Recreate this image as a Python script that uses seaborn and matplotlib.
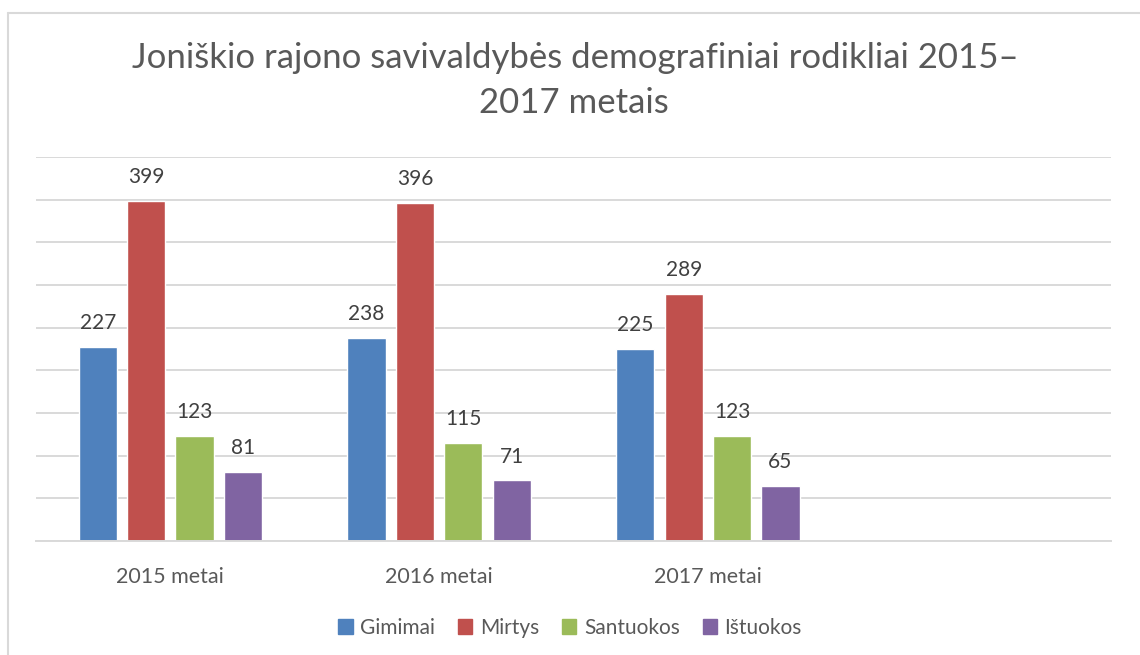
import matplotlib.pyplot as plt
import matplotlib.patches as mpatches
import pandas as pd
import seaborn as sns

# Data
years = ["2015 metai", "2016 metai", "2017 metai"]
series = ["Gimimai", "Mirtys", "Santuokos", "Ištuokos"]
gimimai = [227, 238, 225]
mirtys = [399, 396, 289]
santuokos = [123, 115, 123]
istuokos = [81, 71, 65]
colors = ["#4F81BD", "#C0504D", "#9BBB59", "#8064A2"]

df = pd.DataFrame({"metai": years, "Gimimai": gimimai, "Mirtys": mirtys,
                   "Santuokos": santuokos, "Ištuokos": istuokos})
df = df.melt(id_vars="metai", var_name="rodiklis", value_name="reiksme")

sns.set_theme(style="white")
plt.rcParams["font.family"] = ["Lato", "DejaVu Sans"]

fig = plt.figure(figsize=(11.4, 6.55), dpi=100)
ax = fig.add_axes([36 / 1140, 1 - 541 / 655, 1075 / 1140, 384 / 655])

sns.barplot(data=df, x="metai", y="reiksme", hue="rodiklis", hue_order=series,
            palette=colors, width=0.72, gap=0.21, saturation=1, ax=ax, legend=False)

ax.set_xlim(-0.5, 3.5)
ax.set_ylim(0, 450)
ax.set_yticks(range(0, 451, 50))
ax.set_yticklabels([])
ax.yaxis.grid(True, color="#D9D9D9", linewidth=1.4)
ax.set_axisbelow(True)
for s in ["top", "right", "left"]:
    ax.spines[s].set_visible(False)
ax.spines["bottom"].set_color("#D9D9D9")
ax.spines["bottom"].set_linewidth(1.4)
ax.tick_params(axis="x", length=0, pad=19, labelsize=15.5, labelcolor="#595959")
ax.tick_params(axis="y", length=0)
ax.set_xlabel("")
ax.set_ylabel("")

for c in ax.containers:
    ax.bar_label(c, padding=10, fontsize=15, color="#404040")

fig.text(0.505, 1 - 68 / 655, "Joniškio rajono savivaldybės demografiniai rodikliai 2015–",
         ha="center", va="baseline", fontsize=25, color="#595959")
fig.text(0.503, 1 - 113 / 655, "2017 metais",
         ha="center", va="baseline", fontsize=25, color="#595959")

handles = [mpatches.Patch(color=c, label=s) for c, s in zip(colors, series)]
fig.legend(handles=handles, loc="center", bbox_to_anchor=(570 / 1140, 1 - 628 / 655),
           ncol=4, frameon=False, fontsize=15, handlelength=0.7, handleheight=0.7,
           handletextpad=0.35, columnspacing=1.1, labelcolor="#595959")

# chart frame
fig.add_artist(plt.Line2D([8 / 1140, 8 / 1140], [0, 1 - 13 / 655], color="#D9D9D9",
                          linewidth=1.5, transform=fig.transFigure))
fig.add_artist(plt.Line2D([8 / 1140, 1], [1 - 13 / 655, 1 - 13 / 655], color="#D9D9D9",
                          linewidth=1.5, transform=fig.transFigure))

fig.savefig("out.png", dpi=100)
